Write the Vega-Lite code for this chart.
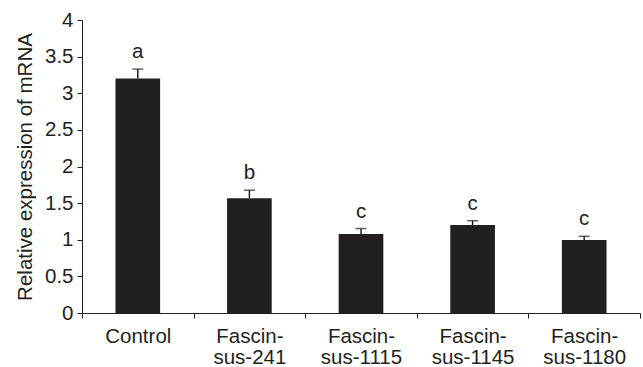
{
  "$schema": "https://vega.github.io/schema/vega-lite/v6.json",
  "width": 558,
  "height": 293,
  "autosize": {"type": "none"},
  "padding": {"left": 82, "top": 20, "right": 3, "bottom": 54},
  "background": "white",
  "config": {
    "view": {"stroke": null},
    "font": "Liberation Sans",
    "axis": {
      "grid": false,
      "domainColor": "#231f20",
      "tickColor": "#231f20",
      "labelColor": "#231f20",
      "titleColor": "#231f20",
      "labelFont": "Liberation Sans",
      "titleFont": "Liberation Sans",
      "labelFontSize": 20.5,
      "titleFontSize": 20.5,
      "titleFontWeight": "normal",
      "domainWidth": 1,
      "tickWidth": 1
    }
  },
  "data": {
    "values": [
      {"group": "Control", "value": 3.2, "err": 0.13, "sig": "a"},
      {"group": "Fascin-sus-241", "value": 1.566, "err": 0.11, "sig": "b"},
      {"group": "Fascin-sus-1115", "value": 1.078, "err": 0.075, "sig": "c"},
      {"group": "Fascin-sus-1145", "value": 1.2, "err": 0.06, "sig": "c"},
      {"group": "Fascin-sus-1180", "value": 0.997, "err": 0.05, "sig": "c"}
    ]
  },
  "transform": [{"calculate": "datum.value + datum.err", "as": "upper"}],
  "encoding": {
    "x": {
      "field": "group",
      "type": "nominal",
      "sort": null,
      "scale": {"paddingInner": 0, "paddingOuter": 0},
      "axis": {
        "title": null,
        "labelAngle": 0,
        "tickBand": "extent",
        "tickSize": 5,
        "labelPadding": 8,
        "labelLineHeight": 21,
        "labelExpr": "indexof(datum.label, 'sus') > 0 ? ['Fascin-', substring(datum.label, 7)] : datum.label"
      }
    }
  },
  "layer": [
    {
      "mark": {"type": "bar", "color": "#231f20", "width": {"band": 0.4}},
      "encoding": {
        "y": {
          "field": "value",
          "type": "quantitative",
          "scale": {"domain": [0, 4], "nice": false},
          "axis": {"title": "Relative expression of mRNA", "values": [0, 0.5, 1, 1.5, 2, 2.5, 3, 3.5, 4], "labelOverlap": false, "format": "~g", "tickSize": 5, "labelPadding": 4, "titlePadding": 9}
        }
      }
    },
    {
      "mark": {"type": "rule", "color": "#231f20", "strokeWidth": 1.5},
      "encoding": {
        "y": {
          "field": "value",
          "type": "quantitative",
          "axis": {"title": "Relative expression of mRNA", "values": [0, 0.5, 1, 1.5, 2, 2.5, 3, 3.5, 4], "labelOverlap": false, "format": "~g", "tickSize": 5, "labelPadding": 4, "titlePadding": 9}
        },
        "y2": {"field": "upper"}
      }
    },
    {
      "mark": {"type": "tick", "color": "#231f20", "size": 11, "thickness": 1.5},
      "encoding": {
        "y": {
          "field": "upper",
          "type": "quantitative",
          "axis": {"title": "Relative expression of mRNA", "values": [0, 0.5, 1, 1.5, 2, 2.5, 3, 3.5, 4], "labelOverlap": false, "format": "~g", "tickSize": 5, "labelPadding": 4, "titlePadding": 9}
        }
      }
    },
    {
      "mark": {"type": "text", "fontSize": 20.5, "color": "#231f20", "baseline": "alphabetic", "dy": -11},
      "encoding": {
        "y": {
          "field": "upper",
          "type": "quantitative",
          "axis": {"title": "Relative expression of mRNA", "values": [0, 0.5, 1, 1.5, 2, 2.5, 3, 3.5, 4], "labelOverlap": false, "format": "~g", "tickSize": 5, "labelPadding": 4, "titlePadding": 9}
        },
        "text": {"field": "sig"}
      }
    }
  ]
}
